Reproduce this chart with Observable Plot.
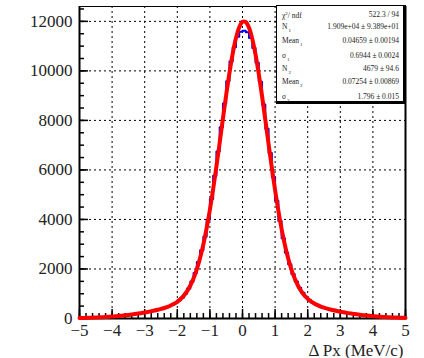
<!DOCTYPE html>
<html>
<head>
<meta charset="utf-8">
<script src="https://cdn.jsdelivr.net/npm/d3@7"></script>
<script src="https://cdn.jsdelivr.net/npm/@observablehq/plot@0.6"></script>
<style>
  html, body { margin: 0; padding: 0; background: #fff; }
  #wrap { position: relative; width: 424px; height: 358px; font-family: "Liberation Serif", "DejaVu Serif", serif; }
  #stats { position: absolute; left: 276px; top: 5px; width: 126px; height: 95px; background: #fff;
           border: 1px solid #000; border-right-width: 3px; border-bottom-width: 3px; color: #222;
           font-size: 7.5px; line-height: 1; }
  #stats .k { position: absolute; left: 5px; white-space: nowrap; }
  #stats .v { position: absolute; right: 4px; white-space: nowrap; }
  #stats sub { font-size: 5px; vertical-align: -3px; margin-left: 1px; }
  #stats sup { font-size: 5px; vertical-align: 3px; }
</style>
</head>
<body>
<div id="wrap"></div>
<script>
// Histogram: 100 bins of 0.1 over [-5, 5], counts per bin
const binLow = -5;
const binWidth = 0.1;
const counts = [
  18, 27, 25, 36, 35, 47, 52, 55, 68, 73,
  88, 93, 111, 118, 139, 150, 173, 185, 212, 226,
  257, 274, 311, 331, 375, 399, 452, 490, 551, 628,
  722, 840, 1000, 1210, 1490, 1840, 2280, 2760, 3300, 3990,
  4830, 5760, 6740, 7720, 8680, 9580, 10380, 10950, 11380, 11580,
  11620, 11560, 11330, 10920, 10330, 9560, 8640, 7660, 6680, 5700,
  4760, 3940, 3240, 2660, 2190, 1800, 1490, 1240, 1040, 880,
  752, 651, 574, 507, 455, 412, 384, 343, 320, 286,
  267, 237, 221, 194, 180, 156, 146, 125, 117, 99,
  91, 77, 71, 59, 55, 44, 42, 33, 31, 24
];

// Double-Gaussian fit curve, sampled every 0.1 from -5 to 5
const fitX = d3.range(101).map(i => Math.round((-5 + i * 0.1) * 10) / 10);
const fitY = [
  19, 23, 26, 30, 35, 41, 47, 54, 61, 70,
  79, 90, 102, 114, 128, 144, 160, 178, 198, 219,
  241, 265, 292, 320, 351, 386, 425, 470, 525, 592,
  676, 784, 923, 1102, 1333, 1626, 1994, 2449, 2996, 3646,
  4392, 5228, 6139, 7100, 8078, 9034, 9922, 10701, 11324, 11761,
  11981, 11975, 11740, 11293, 10658, 9872, 8980, 8023, 7046, 6089,
  5182, 4353, 3614, 2974, 2433, 1985, 1622, 1333, 1107, 931,
  794, 688, 605, 538, 484, 438, 399, 364, 332, 303,
  277, 251, 228, 207, 187, 168, 151, 135, 121, 107,
  95, 84, 74, 65, 57, 50, 43, 38, 33, 28,
  24
];

// Axis ticks
const xMajor = [-5, -4, -3, -2, -1, 0, 1, 2, 3, 4, 5];
const xMinor = d3.range(51).map(i => Math.round((-5 + i * 0.2) * 10) / 10);
const yMajor = [0, 2000, 4000, 6000, 8000, 10000, 12000];
const yMinor = d3.range(26).map(i => i * 500);
const xTitle = "Δ Px (MeV/c)";

// Fit results box
const statLabels = [
  ["χ", "2", "/ ndf", "sup"], ["N", "1"], ["Mean", "1"], ["σ", "1"],
  ["N", "2"], ["Mean", "2"], ["σ", "2"]
];
const statValues = [
  "522.3 / 94", "1.909e+04 ± 9.389e+01", "0.04659 ± 0.00194", "0.6944 ± 0.0024",
  "4679 ± 94.6", "0.07254 ± 0.00869", "1.796 ± 0.015"
];
const statRowTop = [5, 17, 31, 46, 59, 72, 87];

// Step outline of the histogram: each bin's lower edge, plus the closing edge
const histPts = counts.map((c, i) => ({x: binLow + i * binWidth, y: c}));
histPts.push({x: binLow + counts.length * binWidth, y: counts[counts.length - 1]});
const fit = fitX.map((x, i) => ({x, y: fitY[i]}));

const grid = {stroke: "#000", strokeOpacity: 1, strokeWidth: 1, strokeDasharray: "2,3"};
const tickStyle = {text: null, label: null, stroke: "#000", strokeWidth: 1.5};

const chart = Plot.plot({
  width: 424,
  height: 358,
  marginLeft: 79,
  marginRight: 19,
  marginTop: 6,
  marginBottom: 40,
  style: {fontFamily: "Liberation Serif, serif", fontSize: "17px", color: "#222", background: "transparent"},
  x: {domain: [-5, 5], label: null},
  y: {domain: [0, 12600], label: null},
  marks: [
    Plot.gridX(xMajor, grid),
    Plot.gridY(yMajor, grid),
    Plot.frame({stroke: "#000", strokeWidth: 1}),
    Plot.ruleX([-5], {stroke: "#000", strokeWidth: 2}),
    Plot.ruleX([5], {stroke: "#000", strokeWidth: 2}),
    Plot.ruleY([0], {stroke: "#000", strokeWidth: 2}),
    // inward ticks
    Plot.axisX(xMinor, {tickSize: -5, ...tickStyle}),
    Plot.axisX(xMajor, {tickSize: -9, ...tickStyle}),
    Plot.axisY(yMinor, {tickSize: -5, ...tickStyle}),
    Plot.axisY(yMajor, {tickSize: -9, ...tickStyle}),
    // tick labels
    Plot.axisX(xMajor, {tickSize: 0, tickPadding: 5, label: null, fill: "#222", fontSize: 17}),
    Plot.axisY(yMajor, {tickSize: 0, tickPadding: 7, label: null, fill: "#222", fontSize: 17, tickFormat: d => String(d)}),
    Plot.line(histPts, {x: "x", y: "y", curve: "step-after", stroke: "#0000ee", strokeWidth: 2}),
    Plot.line(fit, {x: "x", y: "y", curve: "catmull-rom", stroke: "#ff0000", strokeWidth: 4}),
    Plot.text([xTitle], {frameAnchor: "bottom-right", dy: 37, dx: -2, textAnchor: "end", fontSize: 17, fill: "#222"})
  ]
});

const wrap = document.getElementById("wrap");
wrap.appendChild(chart);

const box = document.createElement("div");
box.id = "stats";
statLabels.forEach((lab, i) => {
  const k = document.createElement("span");
  k.className = "k";
  k.style.top = statRowTop[i] + "px";
  if (lab[3] === "sup") {
    k.innerHTML = lab[0] + "<sup>" + lab[1] + "</sup>" + lab[2];
  } else {
    k.innerHTML = lab[0] + "<sub>" + lab[1] + "</sub>";
  }
  box.appendChild(k);
  const v = document.createElement("span");
  v.className = "v";
  v.style.top = statRowTop[i] + "px";
  v.textContent = statValues[i];
  box.appendChild(v);
});
wrap.appendChild(box);
</script>
</body>
</html>
